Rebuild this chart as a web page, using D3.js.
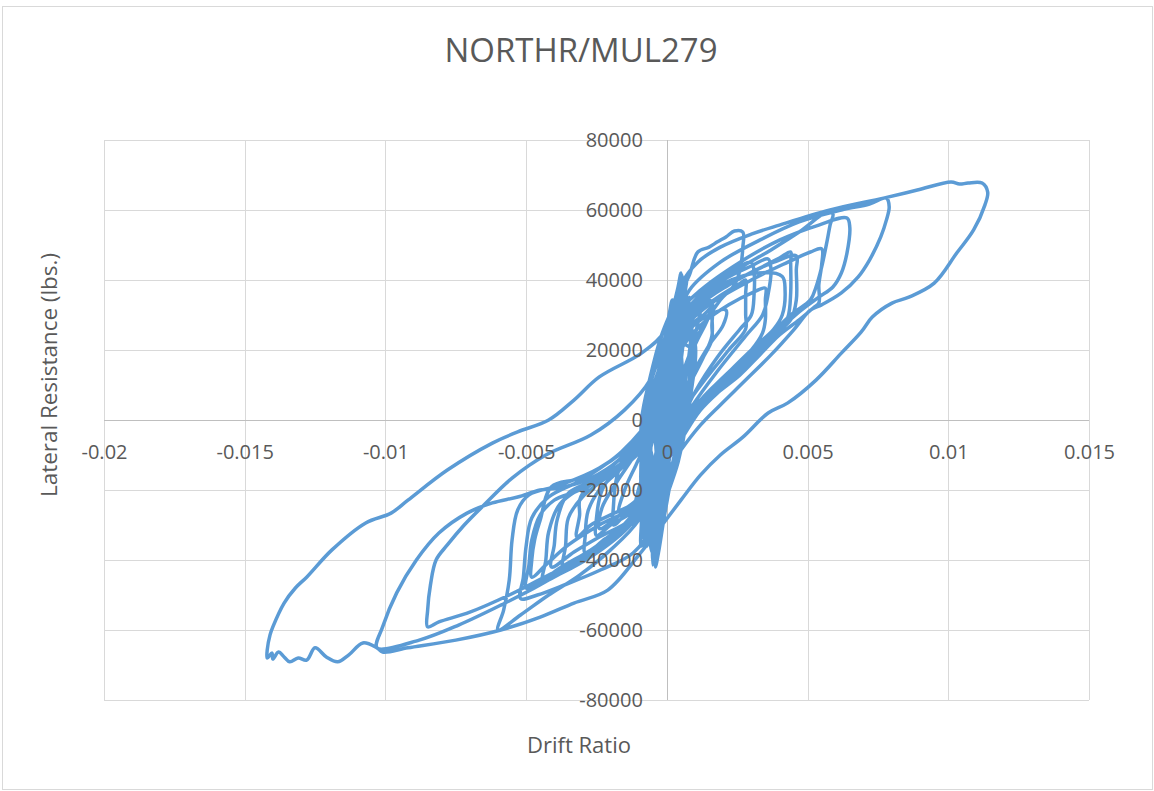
<!DOCTYPE html>
<html><head><meta charset="utf-8">
<script src="https://cdn.jsdelivr.net/npm/d3@7"></script>
<style>body{margin:0;background:#fff}</style>
</head><body><svg id="c" width="1154" height="791"></svg>
<script>
const titleText = "NORTHR/MUL279";
const xTitle = "Drift Ratio";
const yTitle = "Lateral Resistance (lbs.)";
const xTicks = [-0.02,-0.015,-0.01,-0.005,0,0.005,0.01,0.015];
const xTickLabels = ["-0.02","-0.015","-0.01","-0.005","0","0.005","0.01","0.015"];
const yTicks = [-80000,-60000,-40000,-20000,0,20000,40000,60000,80000];
const yTickLabels = ["-80000","-60000","-40000","-20000","0","20000","40000","60000","80000"];

// [drift ratio, lateral resistance], in loading order
const smallCycles = [
[0,0],[0.0001,8000],[0.0002,14000],[0.0001,9000],[-0.0001,-4000],[-0.0002,-11000],[-0.0001,-6000],[0,2000],
[0.0002,16000],[0.0003,22000],[0.0002,17000],[0,3000],[-0.0002,-12000],[-0.0003,-19000],[-0.0002,-13000],[0,-1000],
[0.0002,14000],[0.0004,26000],[0.0005,30000],[0.0003,21000],[0.0001,6000],[-0.0002,-10000],[-0.0004,-22000],[-0.0005,-27000],[-0.0003,-16000],[0,0],
[0.0003,19000],[0.0006,31000],[0.0008,35000],[0.0006,27000],[0.0002,10000],[-0.0002,-8000],[-0.0005,-22000],[-0.0008,-30000],[-0.0007,-24000],[-0.0004,-10000],[0,6000],
[0.0003,26000],[0.0005,38000],[0.0004,33000],[0.0002,18000],[-0.0001,0],[-0.0003,-18000],[-0.0004,-33000],[-0.0004,-38000],[-0.0002,-26000],[0,-6000],
[0.0004,20000],[0.0009,30000],[0.0012,33000],[0.0010,24000],[0.0005,8000],[0,-8000],[-0.0005,-20000],[-0.0009,-26000],[-0.0010,-22000],[-0.0006,-6000],[-0.0002,10000],
[0.0002,22000],[0.0004,34000],[0.0006,40000],[0.0005,33000],[0.0002,18000],[-0.0001,2000],[-0.0004,-16000],[-0.0006,-30000],[-0.0007,-36000],[-0.0005,-26000],[-0.0002,-8000],
[0.0001,12000],[0.0004,28000],[0.0007,36000],[0.0006,30000],[0.0003,14000],[0,-4000],[-0.0003,-20000],[-0.0006,-34000],[-0.0005,-38000],[-0.0003,-24000],[0,-4000]
];
const moreSmallCycles = [
[-0.0004,0],[-0.0001,16000],[0.0002,30000],[0.0004,36000],[0.0004,30000],[0.0002,14000],[0.0001,0],[-0.0002,-16000],[-0.0005,-28000],[-0.0006,-32000],[-0.0005,-26000],[-0.0004,-12000],
[-0.0003,0],[0.0000,14000],[0.0003,24000],[0.0006,30000],[0.0006,24000],[0.0004,10000],[0.0003,0],[0.0000,-14000],[-0.0003,-26000],[-0.0007,-34000],[-0.0007,-28000],[-0.0006,-14000],
[-0.0005,0],[-0.0002,12000],[0.0001,22000],[0.0003,34000],[0.0005,40000],[0.0005,34000],[0.0003,20000],[0.0002,8000],[0.0001,-6000],[-0.0001,-20000],[-0.0003,-34000],[-0.0004,-40000],[-0.0003,-32000],[-0.0003,-18000],
[-0.0004,-4000],[-0.0002,10000],[0.0001,24000],[0.0003,32000],[0.0003,26000],[0.0002,14000],[0.0002,0],[0.0000,-12000],[-0.0003,-24000],[-0.0006,-30000],[-0.0006,-24000],[-0.0005,-12000],
[-0.0008,0],[-0.0005,14000],[-0.0001,26000],[0.0003,33000],[0.0006,36000],[0.0006,30000],[0.0005,16000],[0.0006,0],[0.0003,-12000],[-0.0001,-24000],[-0.0006,-32000],[-0.0009,-36000],[-0.0009,-28000],[-0.0009,-14000],
[-0.0009,0],[-0.0006,12000],[-0.0002,24000],[0.0002,32000],[0.0005,38000],[0.0006,34000],[0.0005,22000],[0.0006,10000],[0.0007,0],[0.0004,-10000],[0,-20000],[-0.0004,-28000],[-0.0008,-34000],[-0.0008,-26000],[-0.0007,-12000],
[-0.0006,0],[-0.0003,14000],[0.0001,28000],[0.0004,38000],[0.0005,42000],[0.0005,36000],[0.0004,24000],[0.0004,12000],[0.0004,0],[0.0002,-14000],[-0.0001,-28000],[-0.0003,-38000],[-0.0004,-42000],[-0.0003,-34000],[-0.0003,-20000],
[-0.0002,-8000],[0,6000],[0.0002,18000],[0.0004,26000],[0.0004,20000],[0.0003,8000],[0.0002,-4000],[0,-16000],[-0.0002,-26000],[-0.0004,-34000],[-0.0003,-26000],[-0.0002,-12000],
[-0.0001,0],[0.0002,14000],[0.0003,28000],[0.0006,38000],[0.0007,40000],[0.0006,34000],[0.0004,20000],[0.0003,6000],[0.0001,-8000],[-0.0002,-22000],[-0.0005,-36000],[-0.0005,-40000],[-0.0004,-34000],[-0.0004,-20000],[-0.0003,-6000],[0,8000]
];
const wideSmallCycles = [
[-0.0008,0],[-0.0004,15000],[0.0002,24000],[0.0008,28000],[0.0009,22000],[0.0008,12000],[0.0007,0],[0.0004,-12000],[-0.0001,-24000],[-0.0005,-34000],[-0.0005,-28000],[-0.0006,-14000],
[-0.0007,0],[-0.0003,14000],[0.0003,22000],[0.0009,20000],[0.0009,14000],[0.0008,4000],[0.0005,-6000],[0.0001,-18000],[-0.0004,-28000],[-0.0007,-22000],[-0.0008,-10000],
[-0.0008,4000],[-0.0004,16000],[0,24000],[0.0005,30000],[0.0010,22000],[0.0009,10000],[0.0006,-2000],[0.0002,-14000],[-0.0002,-28000],[-0.0003,-36000],[-0.0003,-28000],[-0.0005,-16000],[-0.0007,-6000],
[-0.0006,-4000],[-0.0002,10000],[0.0003,18000],[0.0008,24000],[0.0006,8000],[0.0004,-4000],[0.0001,-16000],[-0.0003,-26000],[-0.0008,-32000],[-0.0009,-24000],[-0.0009,-10000],[-0.0007,0],
[-0.0004,8000],[0.0000,20000],[0.0006,26000],[0.0010,20000],[0.0008,8000],[0.0005,-4000],[0.0002,-16000],[-0.0002,-24000],[-0.0006,-28000],[-0.0008,-18000],[-0.0006,-4000],[-0.0003,6000]
];
const mediumCycles = [
[0.0000,2900],[0.0003,17100],[0.0008,25700],[0.0015,30000],[0.0021,31400],[0.0020,27100],[0.0015,21400],[0.0008,11400],[0.0002,0],[-0.0003,-11400],[-0.0007,-20000],[-0.0013,-24300],[-0.0017,-26300],[-0.0015,-20000],[-0.0011,-12900],[-0.0006,-4300],[-0.0002,5700],
[0.0001,8600],[0.0004,25700],[0.0010,31400],[0.0015,34300],[0.0015,30000],[0.0010,21400],[0.0005,10000],[-0.0001,-2900],[-0.0005,-17100],[-0.0010,-25700],[-0.0012,-30000],[-0.0011,-22900],[-0.0008,-14300],[-0.0004,-2900],[0.0000,8600],
[-0.0001,5700],[0.0002,22900],[0.0004,35700],[0.0005,41700],[0.0006,37100],[0.0005,25700],[0.0002,11400],[-0.0002,-2900],[-0.0004,-17100],[-0.0005,-31400],[-0.0005,-41400],[-0.0004,-35700],[-0.0003,-22900],[-0.0001,-8600]
];
const moreMediumCycles = [
[0,6000],[0.0003,20000],[0.0010,30000],[0.0018,35000],[0.0026,39000],[0.0028,40000],[0.0028,36000],[0.0028,30000],[0.0028,26000],[0.0022,20000],[0.0014,12000],[0.0007,4000],[0.0002,-6000],[-0.0004,-18000],[-0.0012,-28000],[-0.0022,-34000],[-0.0029,-38000],[-0.0029,-33000],[-0.0028,-26000],[-0.0024,-20000],[-0.0014,-12000],[-0.0006,-2000],[-0.0002,8000],
[0.0003,22000],[0.0008,30000],[0.0013,33000],[0.0016,34000],[0.0016,30000],[0.0016,24000],[0.0013,18000],[0.0008,10000],[0.0003,0],[-0.0003,-12000],[-0.0010,-22000],[-0.0018,-28000],[-0.0024,-31000],[-0.0023,-25000],[-0.0018,-18000],[-0.0010,-8000],[-0.0004,4000],
[0.0002,20000],[0.0008,32000],[0.0020,40000],[0.0030,44000],[0.0036,46000],[0.0037,43000],[0.0036,36000],[0.0034,30000],[0.0028,24000],[0.0018,14000],[0.0009,4000],[0.0002,-6000],[-0.0005,-20000],[-0.0014,-30000],[-0.0025,-37000],[-0.0035,-41000],[-0.0037,-42000],[-0.0036,-36000],[-0.0035,-28000],[-0.0030,-22000],[-0.0018,-14000],[-0.0008,-4000],[-0.0002,8000],
[0.0003,24000],[0.0010,34000],[0.0020,39000],[0.0032,42000],[0.0041,41000],[0.0042,37000],[0.0041,30000],[0.0038,26000],[0.0030,20000],[0.0020,12000],[0.0010,3000],[0.0003,-6000],[-0.0004,-18000],[-0.0013,-30000],[-0.0025,-38000],[-0.0038,-44000],[-0.0044,-46000],[-0.0043,-40000],[-0.0042,-32000],[-0.0038,-24000],[-0.0028,-18000],[-0.0015,-10000],[-0.0006,0],[-0.0002,10000],
[0.0003,26000],[0.0012,36000],[0.0022,42000],[0.0030,45000],[0.0031,42000],[0.0031,36000],[0.0030,30000],[0.0026,26000],[0.0018,18000],[0.0010,8000],[0.0003,-4000],[-0.0004,-16000],[-0.0012,-26000],[-0.0020,-30000],[-0.0025,-33000],[-0.0025,-28000],[-0.0023,-20000],[-0.0016,-12000],[-0.0007,-2000],[-0.0002,8000],
[0.0002,18000],[0.0007,26000],[0.0013,30000],[0.0016,32000],[0.0016,27000],[0.0016,23000],[0.0013,18000],[0.0010,14000],[0.0005,6000],[0.0001,-4000],[-0.0005,-30000],[-0.0012,-38000],[-0.0024,-43000],[-0.0036,-47000],[-0.0046,-50000],[-0.0052,-51000],[-0.0051,-45000],[-0.0050,-36000],[-0.0048,-28000],[-0.0042,-22000],[-0.0030,-17000],[-0.0016,-9000],[-0.0005,2000]
];
const loopI = [
[0.0001,20000],[0.0004,34300],[0.0008,41400],[0.0011,48000],[0.0015,49400],[0.0018,50900],[0.0021,52300],[0.0024,54000],[0.0027,53700],[0.0027,49400],[0.0026,42900],[0.0024,38600],[0.0019,34300],[0.0012,25700],[0.0006,14300],[0.0002,2900],[-0.0003,-8600],[-0.0008,-20000],[-0.0015,-27100],[-0.0019,-30000],[-0.0019,-24900],[-0.0018,-17100],[-0.0016,-12300],[-0.0010,-5700],[-0.0004,5700]
];
const loopH = [
[0.0000,2900],[0.0005,20000],[0.0012,27100],[0.0022,32900],[0.0031,36600],[0.0035,37700],[0.0035,34300],[0.0035,28600],[0.0034,24900],[0.0030,20000],[0.0021,12900],[0.0012,5700],[0.0005,-2900],[-0.0003,-14300],[-0.0010,-22900],[-0.0020,-27100],[-0.0027,-30000],[-0.0032,-33400],[-0.0031,-27100],[-0.0031,-22900],[-0.0028,-19100],[-0.0017,-14300],[-0.0006,-5700]
];
const loopF = [
[0.0000,5700],[0.0004,22900],[0.0012,32900],[0.0022,38600],[0.0033,43400],[0.0040,46300],[0.0044,48000],[0.0044,45100],[0.0044,36300],[0.0043,29400],[0.0040,25700],[0.0033,20000],[0.0024,12900],[0.0015,5700],[0.0008,0],[0.0001,-8600],[-0.0004,-20000],[-0.0013,-28600],[-0.0024,-33400],[-0.0033,-37700],[-0.0041,-42000],[-0.0040,-35700],[-0.0039,-28600],[-0.0035,-20900],[-0.0024,-16600],[-0.0011,-8600],[-0.0004,2900]
];
const loopE = [
[0.0001,11400],[0.0006,25700],[0.0015,32900],[0.0030,40000],[0.0043,45100],[0.0051,48000],[0.0055,48900],[0.0055,44300],[0.0054,38600],[0.0054,33400],[0.0052,32000],[0.0047,28600],[0.0040,24300],[0.0033,18600],[0.0026,12900],[0.0017,7100],[0.0010,1400],[0.0003,-5700],[-0.0003,-15700],[-0.0008,-25700],[-0.0017,-31400],[-0.0027,-37100],[-0.0038,-42300],[-0.0045,-46300],[-0.0050,-48000],[-0.0049,-41400],[-0.0048,-34300],[-0.0045,-27100],[-0.0040,-22900],[-0.0031,-20000],[-0.0019,-14300],[-0.0008,-5700],[-0.0003,5700]
];
const loopD = [
[0.0000,11400],[0.0005,25700],[0.0012,34300],[0.0022,41400],[0.0037,48600],[0.0047,53700],[0.0057,59400],[0.0059,58900],[0.0058,55700],[0.0057,51400],[0.0055,43700],[0.0053,38000],[0.0051,34300],[0.0044,30000],[0.0033,21400],[0.0022,13700],[0.0012,5700],[0.0003,-2900],[-0.0004,-14300],[-0.0011,-24300],[-0.0024,-30000],[-0.0035,-35700],[-0.0043,-41400],[-0.0048,-44900],
[-0.0048,-40000],[-0.0047,-34300],[-0.0045,-28600],[-0.0041,-19100],[-0.0031,-16600],[-0.0017,-10000],[-0.0006,0],[-0.0002,11400]
];
const loopG = [
[0.0000,8600],[0.0006,28600],[0.0015,35700],[0.0028,41400],[0.0038,45100],[0.0046,46900],[0.0046,42900],[0.0046,34300],[0.0044,28600],[0.0038,24300],[0.0030,18600],[0.0019,10000],[0.0010,2900],[0.0003,-5700],[-0.0003,-14300],[-0.0007,-21400],[-0.0017,-31400],[-0.0027,-38600],[-0.0042,-44300],[-0.0056,-50000],[-0.0070,-54900],[-0.0081,-57700],[-0.0085,-59100],
[-0.0085,-54300],[-0.0084,-47100],[-0.0082,-40000],[-0.0078,-35700],[-0.0072,-30000],[-0.0065,-24300],[-0.0055,-16600],[-0.0043,-10000],[-0.0027,-4300],[-0.0015,2900],[-0.0006,11400]
];
const loopC = [
[0.0002,28600],[0.0012,37100],[0.0026,45100],[0.0040,51400],[0.0054,55700],[0.0064,57700],[0.0065,55100],[0.0064,47700],[0.0062,42000],[0.0059,38000],[0.0054,35100],[0.0047,30900],[0.0038,24300],[0.0030,17100],[0.0021,10000],[0.0012,2900],[0.0005,-5700],[-0.0003,-15700],[-0.0010,-28600],[-0.0020,-37100],[-0.0031,-44300],[-0.0042,-50000],[-0.0052,-55700],[-0.0060,-60000],
[-0.0058,-54300],[-0.0056,-45700],[-0.0055,-34300],[-0.0053,-25700],[-0.0049,-21400],[-0.0038,-18600],[-0.0024,-13700],[-0.0011,-5700],[-0.0004,5700]
];
const loopB = [
[0.0002,25700],[0.0008,37100],[0.0019,45100],[0.0033,51400],[0.0047,56600],[0.0062,60000],[0.0072,61700],[0.0078,63400],[0.0079,60900],[0.0078,57100],[0.0076,52300],[0.0072,45700],[0.0068,40900],[0.0062,36300],[0.0055,32900],[0.0051,31400],[0.0045,25700],[0.0037,18600],[0.0028,11400],[0.0019,4300],[0.0012,-1400],[0.0005,-8600],[-0.0003,-18600],[-0.0010,-27100],[-0.0020,-34300],[-0.0031,-40000],[-0.0045,-47100],[-0.0059,-52900],[-0.0074,-58600],[-0.0088,-62900],[-0.0103,-65100],
[-0.0101,-59100],[-0.0096,-49400],[-0.0089,-40000],[-0.0081,-32300],[-0.0071,-26600],[-0.0062,-23700],[-0.0053,-22000],[-0.0045,-20000],[-0.0038,-19400],[-0.0027,-16600],[-0.0017,-11400],[-0.0008,-2900],[-0.0003,8600]
];
const loopA = [
[0.0002,28600],[0.0005,38600],[0.0011,45100],[0.0019,49400],[0.0030,53100],[0.0040,55700],[0.0058,60000],[0.0077,63400],[0.0089,65700],[0.0101,68000],[0.0104,67400],[0.0107,67700],[0.0112,67700],[0.0114,65100],
[0.0113,61400],[0.0109,54300],[0.0103,47700],[0.0095,39100],[0.0086,35100],[0.0080,33400],[0.0073,29400],[0.0069,25100],[0.0062,19100],[0.0053,11400],[0.0043,4900],[0.0036,2000],[0.0027,-4900],[0.0019,-10000],[0.0012,-15700],[0.0005,-22900],[-0.0003,-31400],[-0.0010,-38600],[-0.0021,-48600],[-0.0033,-52300],[-0.0045,-56300],[-0.0059,-60000],[-0.0075,-62900],[-0.0092,-65100]
];
const loopN1 = [
[-0.0101,-66300],[-0.0103,-65100],[-0.0108,-63700],[-0.0113,-67100],[-0.0117,-69100],[-0.0121,-67700],[-0.0125,-65100],[-0.0128,-68600],[-0.0131,-68000],[-0.0134,-69100],[-0.0136,-67700],[-0.0138,-66300],[-0.0140,-68300],[-0.01403,-66600],[-0.0142,-68000],[-0.0142,-65700],[-0.0141,-61400],[-0.0140,-59100],[-0.0136,-52300],[-0.0132,-48000],[-0.0128,-44900],[-0.0119,-37100],[-0.0107,-29400],[-0.0098,-26600],[-0.0092,-22900],[-0.0078,-14300],[-0.0062,-6600],[-0.0053,-3400],[-0.0042,0],[-0.0033,5700],[-0.0024,12300],[-0.0009,19100],[-0.0001,25100]
];
const aftershock = [
[0.0002,34300],[0.0003,30000],[0.0001,15000],[-0.0001,0],[-0.0003,-14000],[-0.0002,-6000],[0,2000]
];

const series = [].concat(smallCycles, moreSmallCycles, wideSmallCycles, mediumCycles, moreMediumCycles, loopI, loopH, loopF, loopE, loopD, loopG, loopC, loopB, loopA, loopN1, aftershock);

const W = 1154, H = 791;
const svg = d3.select("#c");
const FONT = "'Open Sans', 'Noto Sans', sans-serif";
svg.append("rect").attr("width", W).attr("height", H).attr("fill", "#fff");
svg.append("rect").attr("x", 2.5).attr("y", 6.5).attr("width", 1150).attr("height", 783)
  .attr("fill", "none").attr("stroke", "#D9D9D9").attr("stroke-width", 1);

const x = d3.scaleLinear().domain([-0.02, 0.015]).range([104, 1089]);
const y = d3.scaleLinear().domain([-80000, 80000]).range([700, 140]);

// gridlines
const grid = svg.append("g").attr("stroke", "#D9D9D9").attr("stroke-width", 1);
grid.selectAll("line.v").data(xTicks.filter(d => d !== 0)).join("line")
  .attr("x1", d => Math.round(x(d)) + 0.5).attr("x2", d => Math.round(x(d)) + 0.5)
  .attr("y1", y(80000)).attr("y2", y(-80000));
grid.selectAll("line.h").data(yTicks.filter(d => d !== 0)).join("line")
  .attr("y1", d => Math.round(y(d)) + 0.5).attr("y2", d => Math.round(y(d)) + 0.5)
  .attr("x1", x(-0.02)).attr("x2", x(0.015));
// zero axes
svg.append("line").attr("x1", x(-0.02)).attr("x2", x(0.015))
  .attr("y1", Math.round(y(0)) + 0.5).attr("y2", Math.round(y(0)) + 0.5)
  .attr("stroke", "#BFBFBF").attr("stroke-width", 1);
svg.append("line").attr("y1", y(80000)).attr("y2", y(-80000))
  .attr("x1", Math.round(x(0)) + 0.5).attr("x2", Math.round(x(0)) + 0.5)
  .attr("stroke", "#BFBFBF").attr("stroke-width", 1);

// data
const line = d3.line().x(d => x(d[0])).y(d => y(d[1])).curve(d3.curveCatmullRom.alpha(0.5));
svg.append("path").datum(series).attr("d", line)
  .attr("fill", "none").attr("stroke", "#5B9BD5").attr("stroke-width", 3.5)
  .attr("stroke-linejoin", "round").attr("stroke-linecap", "round");

// axes labels (drawn on top)
const gx = svg.append("g").attr("transform", `translate(0,${y(0)})`)
  .call(d3.axisBottom(x).tickValues(xTicks).tickFormat((d, i) => xTickLabels[i]).tickSize(0).tickPadding(25));
gx.select(".domain").remove();
gx.attr("font-family", FONT).attr("font-size", 20).attr("color", "#595959");
const gy = svg.append("g").attr("transform", `translate(${x(0)},0)`)
  .call(d3.axisLeft(y).tickValues(yTicks).tickFormat((d, i) => yTickLabels[i]).tickSize(0).tickPadding(24));
gy.select(".domain").remove();
gy.attr("font-family", FONT).attr("font-size", 20).attr("color", "#595959");

// titles
svg.append("text").attr("x", 581).attr("y", 62).attr("text-anchor", "middle")
  .attr("font-family", FONT).attr("font-size", 33).attr("fill", "#595959")
  .attr("textLength", 273).attr("lengthAdjust", "spacingAndGlyphs").text(titleText);
svg.append("text").attr("x", 579).attr("y", 753).attr("text-anchor", "middle")
  .attr("font-family", FONT).attr("font-size", 22).attr("fill", "#595959")
  .attr("textLength", 104).attr("lengthAdjust", "spacingAndGlyphs").text(xTitle);
svg.append("text").attr("transform", "translate(57,375) rotate(-90)").attr("text-anchor", "middle")
  .attr("font-family", FONT).attr("font-size", 22).attr("fill", "#595959")
  .attr("textLength", 244).attr("lengthAdjust", "spacingAndGlyphs").text(yTitle);
</script></body></html>
